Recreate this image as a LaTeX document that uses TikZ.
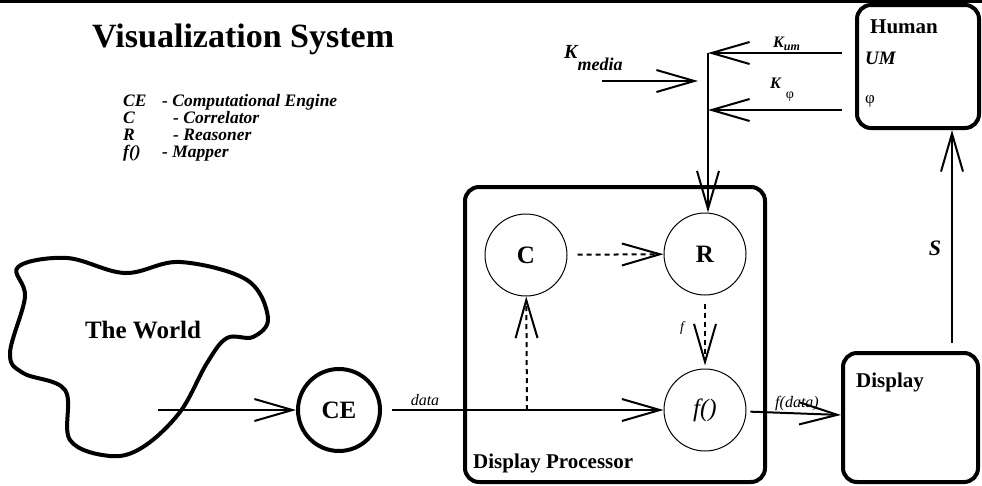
\documentclass[tikz,border=0pt]{standalone}
\usepackage{fontspec}
\setmainfont{Liberation Serif}
\usetikzlibrary{arrows.meta, positioning}

\begin{document}
\begin{tikzpicture}[x=1pt, y=-1pt,
		proc/.style={circle, draw, line width=1pt, minimum size=82pt, inner sep=0pt,
			font=\fontsize{25}{25}\selectfont\bfseries},
		box/.style={draw, line width=4pt, rounded corners=14pt, inner sep=0pt},
		flow/.style={line width=2pt, -{Straight Barb[length=38pt, width=22pt]}},
		hint/.style={flow, dash pattern=on 5pt off 4pt},
		lbl/.style={inner sep=0pt, anchor=base west},
		note/.style={lbl, font=\fontsize{16}{16}\selectfont\itshape}]
	\useasboundingbox (0,0) rectangle (982,485);
	\draw[line width=3pt] (0,1.5) -- (982,1.5);

	% title and the key to the abbreviations, two columns so the dashes
	% line up the way they did in the original slide
	\node[lbl, font=\fontsize{34}{34}\selectfont\bfseries] (title) at (92,47) {Visualization System};
	\begin{scope}[every node/.style={lbl, font=\fontsize{17.5}{17.5}\selectfont\bfseries\itshape}]
		\node (kce) at (123,106) {CE};
		\node (kc)  at (123,123) {C};
		\node (kr)  at (123,140) {R};
		\node (kf)  at (123,157) {f()};
		\node at (162,106) {- Computational Engine};
		\node at (173,123) {- Correlator};
		\node at (173,140) {- Reasoner};
		\node at (162,157) {- Mapper};
	\end{scope}

	% the world is a blob, not a box
	\draw[line width=4pt] plot[smooth cycle, tension=0.6] coordinates {
		(18,267) (67,258) (125,273) (180,262) (247,280) (268,318) (253,337)
		(227,338) (207,363) (180,412) (143,447) (110,456) (70,440) (65,390)
		(23,373) (10,353) (25,297)};
	\node[font=\fontsize{25}{25}\selectfont\bfseries] (world) at (143,330) {The World};
	\coordinate (wsrc) at (158,410);

	\node[proc, line width=4pt] (ce) at (339,410) {CE};

	% display processor with its three parts
	\node[box, minimum width=300pt, minimum height=295pt] (dp) at (615,334.5) {};
	\node[lbl, font=\fontsize{21}{21}\selectfont\bfseries] (dplbl) at (473,468) {Display Processor};
	\node[proc] (c) at (526,255) {C};
	\node[proc] (r) at (705,254) {R};
	\node[proc, font=\fontsize{25}{25}\selectfont\itshape] (fmap) at (705,410) {f()};
	\coordinate (tap) at (527,410);

	\node[box, minimum width=135pt, minimum height=129pt] (disp) at (910.5,417.5) {};
	\node[lbl, font=\fontsize{21}{21}\selectfont\bfseries] (displbl) at (856,387) {Display};

	\node[box, minimum width=122pt, minimum height=123pt] (human) at (918,66.5) {};
	\node[lbl, font=\fontsize{21}{21}\selectfont\bfseries] (humlbl) at (870,33) {Human};
	\node[lbl, font=\fontsize{19}{19}\selectfont\bfseries\itshape] (um) at (865,64) {UM};
	\node[lbl, font=\fontsize{17}{17}\selectfont] (phi) at (865,103) {φ};

	% feedback from the human into the reasoner
	\coordinate (kumsrc) at (842,53);
	\coordinate (jum) at (708,53);
	\coordinate (kphisrc) at (842,110);
	\coordinate (jphi) at (708,110);
	\coordinate (kmsrc) at (602,81);
	\coordinate (kmtip) at (698,81);
	\coordinate (sfoot) at (952,343);

	\draw[flow] (kumsrc) -- (jum);
	\draw[flow] (kphisrc) -- (jphi);
	\draw[flow] (kmsrc) -- (kmtip);
	\draw[flow] (jum) -- (jum |- r.north);
	\node[lbl, font=\fontsize{16}{16}\selectfont\bfseries\itshape] at (773,47)
		{K\raisebox{-3pt}{\fontsize{12}{12}\selectfont um}};
	\node[lbl, font=\fontsize{16}{16}\selectfont\bfseries\itshape] at (770,88)
		{K\hspace{5pt}\raisebox{-10pt}{\fontsize{14}{14}\selectfont\mdseries\upshape φ}};
	\node[lbl, font=\fontsize{20}{20}\selectfont\bfseries\itshape] at (564,58)
		{K\raisebox{-12pt}{\fontsize{18}{18}\selectfont media}};

	% main data path, left to right
	\draw[flow] (wsrc) -- (ce);
	\draw[flow, shorten <=10pt] (ce) -- (fmap);
	\draw[flow, shorten <=4pt] (fmap) -- (disp);
	\node[note, anchor=base] at (425,405) {data};
	\node[note, anchor=base] at (797,407) {f(data)};

	\draw[hint] (tap) -- (c);
	\draw[hint, shorten <=10pt] (c) -- (r);
	\draw[hint, shorten <=8pt, shorten >=3pt] (r) -- (fmap);
	\node[note, font=\fontsize{14}{14}\selectfont\itshape] at (680,331) {f};

	\draw[flow] (sfoot) -- (sfoot |- human.south);
	\node[font=\fontsize{22}{22}\selectfont\bfseries\itshape] (s) at (935,248) {S};
\end{tikzpicture}
\end{document}
